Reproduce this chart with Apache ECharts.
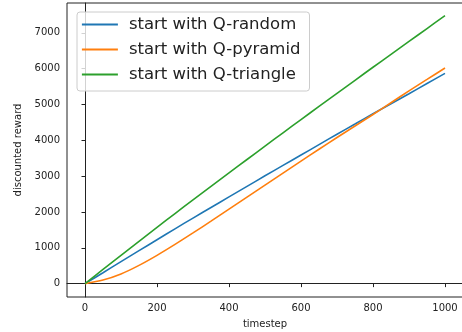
<!DOCTYPE html>
<html>
<head>
<meta charset="utf-8">
<script src="https://cdn.jsdelivr.net/npm/echarts@6/dist/echarts.min.js"></script>
<style>
  html, body { margin: 0; padding: 0; background: #fff; }
  #container { width: 462px; height: 332px; }
</style>
</head>
<body>
<div id="container"></div>
<script>
// values, every 50 timesteps
var steps = [0, 50, 100, 150, 200, 250, 300, 350, 400, 450, 500, 550, 600, 650, 700, 750, 800, 850, 900, 950, 1000];
var qRandom   = [0, 305, 615, 920, 1225, 1530, 1830, 2125, 2420, 2715, 3010, 3300, 3590, 3880, 4170, 4455, 4740, 5020, 5300, 5585, 5870];
var qPyramid  = [0, 100, 270, 510, 790, 1095, 1415, 1745, 2080, 2415, 2750, 3085, 3420, 3750, 4080, 4400, 4720, 5050, 5380, 5700, 6020];
var qTriangle = [0, 395, 790, 1180, 1570, 1955, 2340, 2715, 3090, 3465, 3840, 4210, 4580, 4945, 5310, 5675, 6040, 6400, 6760, 7120, 7480];
var xTicks = [0, 200, 400, 600, 800, 1000];
var yTicks = [0, 1000, 2000, 3000, 4000, 5000, 6000, 7000];
var names = ['start with Q-random', 'start with Q-pyramid', 'start with Q-triangle'];
var colors = ['#1f77b4', '#ff7f0e', '#2ca02c'];

function pairs(ys) {
	var arr = [];
	for (var i = 0; i < steps.length; ++i)
		arr.push([steps[i], ys[i]]);
	return arr;
}
function plain(v) { return String(v); }

var font = 'DejaVu Sans';
var myChart = echarts.init(document.getElementById('container'));
var lines = [qRandom, qPyramid, qTriangle];
var series = [];
for (var i = 0; i < lines.length; ++i) {
	series.push({
		name: names[i],
		type: 'line',
		data: pairs(lines[i]),
		symbol: 'none',
		smooth: 0.3,
		color: colors[i],
		lineStyle: { width: 1.6, color: colors[i] },
		z: 2 + i
	});
}

var option = {
	animation: false,
	backgroundColor: '#fff',
	grid: {
		left: 67, top: 3, right: -1, bottom: 35,
		outerBoundsMode: 'none',
		containLabel: false,
		show: true, borderColor: '#222', borderWidth: 1, backgroundColor: 'transparent'
	},
	legend: {
		orient: 'vertical',
		left: 77, top: 12,
		padding: [4, 9, 8, 4],
		itemWidth: 36, itemHeight: 16, itemGap: 8,
		backgroundColor: 'rgba(255,255,255,0.8)',
		borderColor: '#ccc', borderWidth: 1, borderRadius: 3,
		itemStyle: { opacity: 0 },
		lineStyle: { width: 1.8 },
		textStyle: { fontFamily: font, fontSize: 16.5, color: '#222', padding: [0, 0, 0, 6] },
		data: names
	},
	xAxis: {
		type: 'value',
		min: -50, max: 1050,
		name: 'timestep',
		nameLocation: 'middle',
		nameGap: 22,
		nameTextStyle: { fontFamily: font, fontSize: 10, color: '#222' },
		splitLine: { show: false },
		axisLine: { lineStyle: { color: '#222' } },
		axisTick: { show: true, inside: false, length: 3.5, customValues: xTicks, lineStyle: { color: '#222' } },
		axisLabel: { customValues: xTicks, formatter: plain, margin: 6, fontFamily: font, fontSize: 10, color: '#222' }
	},
	yAxis: {
		type: 'value',
		min: -373, max: 7833,
		name: 'discounted reward',
		nameLocation: 'middle',
		nameGap: 44,
		nameTextStyle: { fontFamily: font, fontSize: 10, color: '#222' },
		splitLine: { show: false },
		axisLine: { show: true, lineStyle: { color: '#222' } },
		axisTick: { show: true, inside: false, length: 3.5, customValues: yTicks, lineStyle: { color: '#222' } },
		axisLabel: { customValues: yTicks, formatter: plain, margin: 7, fontFamily: font, fontSize: 10, color: '#222' }
	},
	series: series
};
myChart.setOption(option);
</script>
</body>
</html>
